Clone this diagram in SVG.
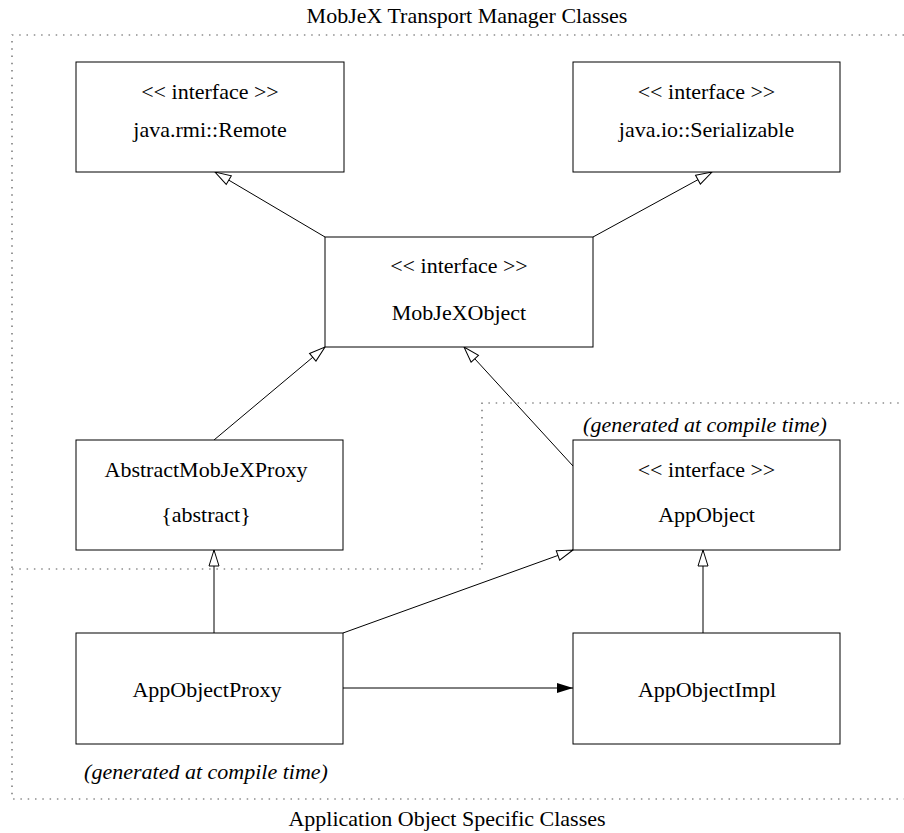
<svg xmlns="http://www.w3.org/2000/svg" width="904" height="833" viewBox="0 0 904 833">
  <style>
    text { font-family: "Liberation Serif", "Times New Roman", serif; font-size: 22px; fill: #000; text-anchor: middle; }
    .note { font-style: italic; }
    .box { fill: #fff; stroke: #000; stroke-width: 1; }
    .edge { fill: none; stroke: #000; stroke-width: 1; }
    .gen { marker-end: url(#hollow); }
    .assoc { marker-end: url(#filled); }
    .zone { fill: none; stroke: #555; stroke-width: 1.2; stroke-dasharray: 1.5 5.8; }
  </style>
  <defs>
    <!-- generalization: open triangle -->
    <marker id="hollow" markerUnits="userSpaceOnUse" viewBox="-1 -1 18 12" refX="16" refY="5" markerWidth="18" markerHeight="12" orient="auto" overflow="visible">
      <path d="M0,0 L16,5 L0,10 Z" fill="#fff" stroke="#000" stroke-width="1"/>
    </marker>
    <!-- navigable association: solid triangle -->
    <marker id="filled" markerUnits="userSpaceOnUse" viewBox="0 0 16 10" refX="16" refY="5" markerWidth="16" markerHeight="10" orient="auto">
      <path d="M0,0 L16,5 L0,10 Z" fill="#000"/>
    </marker>
  </defs>

  <!-- package boundaries -->
  <g id="zones">
    <path class="zone" d="M904,35 H12 V799 H904"/>
    <path class="zone" d="M12,569 H482 V403 H904"/>
    <text x="467" y="23">MobJeX Transport Manager Classes</text>
    <text x="447" y="826">Application Object Specific Classes</text>
  </g>

  <!-- connectors -->
  <g id="connectors">
    <line class="edge gen" x1="325" y1="237" x2="215" y2="172"/>
    <line class="edge gen" x1="593" y1="237" x2="712" y2="172"/>
    <line class="edge gen" x1="214" y1="440" x2="325" y2="347"/>
    <line class="edge gen" x1="573" y1="466" x2="464" y2="347"/>
    <line class="edge gen" x1="214" y1="633" x2="214" y2="550"/>
    <line class="edge gen" x1="343" y1="633" x2="573" y2="550"/>
    <line class="edge gen" x1="703" y1="633" x2="703" y2="550"/>
    <line class="edge assoc" x1="343" y1="688" x2="573" y2="688"/>
  </g>

  <g id="remote">
    <rect class="box" x="76" y="62" width="268" height="110"/>
    <text x="210" y="99">&lt;&lt; interface &gt;&gt;</text>
    <text x="210" y="137">java.rmi::Remote</text>
  </g>

  <g id="serializable">
    <rect class="box" x="573" y="62" width="267" height="110"/>
    <text x="706.5" y="99">&lt;&lt; interface &gt;&gt;</text>
    <text x="706.5" y="137">java.io::Serializable</text>
  </g>

  <g id="mobjexobject">
    <rect class="box" x="325" y="237" width="268" height="110"/>
    <text x="459" y="273">&lt;&lt; interface &gt;&gt;</text>
    <text x="459" y="320">MobJeXObject</text>
  </g>

  <g id="abstractproxy">
    <rect class="box" x="76" y="440" width="267" height="110"/>
    <text x="206" y="477">AbstractMobJeXProxy</text>
    <text x="206" y="522">{abstract}</text>
  </g>

  <g id="appobject">
    <text class="note" x="705" y="432">(generated at compile time)</text>
    <rect class="box" x="573" y="440" width="267" height="110"/>
    <text x="706.5" y="477">&lt;&lt; interface &gt;&gt;</text>
    <text x="706.5" y="522">AppObject</text>
  </g>

  <g id="appobjectproxy">
    <rect class="box" x="76" y="633" width="267" height="111"/>
    <text x="207" y="697">AppObjectProxy</text>
    <text class="note" x="206" y="779">(generated at compile time)</text>
  </g>

  <g id="appobjectimpl">
    <rect class="box" x="573" y="633" width="267" height="111"/>
    <text x="707" y="697">AppObjectImpl</text>
  </g>
</svg>
